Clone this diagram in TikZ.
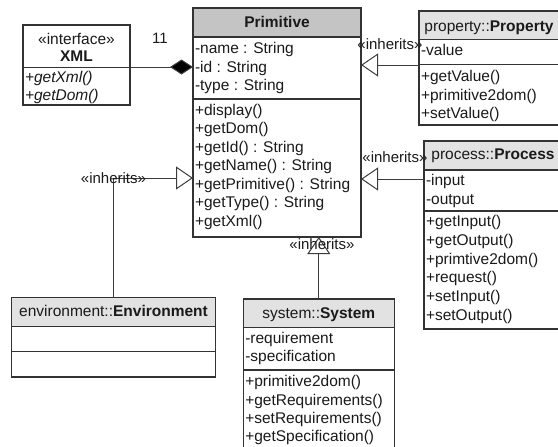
\documentclass[tikz,border=0pt]{standalone}
\usepackage{fontspec}
\setmainfont{Liberation Sans}
\usetikzlibrary{arrows.meta}

\definecolor{boxline}{HTML}{333333}
\definecolor{hdrdark}{HTML}{C4C4C4}
\definecolor{hdrlight}{HTML}{E2E2E2}
\definecolor{txtcol}{HTML}{1A1A1A}
\definecolor{conncol}{HTML}{3C3C3C}
\newcommand\umlfont{\fontsize{15.5}{18.5}\selectfont}
\newcommand\lblfont{\fontsize{15}{18}\selectfont}

\begin{document}
\begin{tikzpicture}[x=1pt,y=-1pt,
  every node/.style={inner sep=0pt, outer sep=0pt},
  classbox/.style={rectangle, draw=boxline, line width=1.3pt, fill=white, anchor=north west},
  frame/.style={draw=boxline, line width=1.3pt},
  member/.style={anchor=base west, font=\umlfont, text=txtcol},
  title/.style={anchor=base, font=\umlfont, text=txtcol},
  lbl/.style={font=\lblfont, text=txtcol},
  conn/.style={draw=conncol, line width=1pt},
  inherit/.style={conn, -{Triangle[length=17pt, width=23pt, fill=white]}},
  compose/.style={conn, -{Diamond[length=23pt, width=15pt, fill=black]}}
]
\useasboundingbox (0,0) rectangle (558,447);
\clip (0,0) rectangle (558,447);

% ---------- XML interface ----------
\node[classbox, minimum width=107pt, minimum height=80pt] (xml) at (23,25) {};
\draw[frame] (23,67.5) -- (130,67.5);
\node[title] (xml-st) at (76.5,44) {«interface»};
\node[title] (xml-nm) at (76.5,61.5) {\bfseries XML};
\node[member] (xml-m1) at (25,82.5) {\itshape +getXml()};
\node[member] (xml-m2) at (25,100.5) {\itshape +getDom()};

% ---------- Primitive ----------
\node[classbox, minimum width=168pt, minimum height=229pt] (prim) at (193,8) {};
\filldraw[frame, fill=hdrdark] (193,8) rectangle (361,37);
\draw[frame] (193,99) -- (361,99);
\node[title] (prim-nm) at (277,27.5) {\bfseries Primitive};
\node[member] (prim-a1) at (195,53.5) {-name : String};
\node[member] (prim-a2) at (195,72.2) {-id : String};
\node[member] (prim-a3) at (195,90.8) {-type : String};
\node[member] (prim-m1) at (195,115) {+display()};
\node[member] (prim-m2) at (195,133.5) {+getDom()};
\node[member] (prim-m3) at (195,152) {+getId() : String};
\node[member] (prim-m4) at (195,170.5) {+getName() : String};
\node[member] (prim-m5) at (195,189) {+getPrimitive() : String};
\node[member] (prim-m6) at (195,207.5) {+getType() : String};
\node[member] (prim-m7) at (195,226) {+getXml()};

% ---------- property::Property ----------
\node[classbox, minimum width=140pt, minimum height=114pt] (prop) at (419,11) {};
\filldraw[frame, fill=hdrlight] (419,11) rectangle (559,39.3);
\draw[frame] (419,64.3) -- (559,64.3);
\node[title] (prop-nm) at (489,31.7) {property::\textbf{Property}};
\node[member] (prop-a1) at (421,55) {-value};
\node[member] (prop-m1) at (421,81.7) {+getValue()};
\node[member] (prop-m2) at (421,100) {+primitive2dom()};
\node[member] (prop-m3) at (421,118.3) {+setValue()};

% ---------- process::Process ----------
\node[classbox, minimum width=138pt, minimum height=188pt] (proc) at (424,141) {};
\filldraw[frame, fill=hdrlight] (424,141) rectangle (562,170);
\draw[frame] (424,211) -- (562,211);
\node[title] (proc-nm) at (493,159.3) {process::\textbf{Process}};
\node[member] (proc-a1) at (426,185) {-input};
\node[member] (proc-a2) at (426,204) {-output};
\node[member] (proc-m1) at (426,226.7) {+getInput()};
\node[member] (proc-m2) at (426,245) {+getOutput()};
\node[member] (proc-m3) at (426,264.3) {+primtive2dom()};
\node[member] (proc-m4) at (426,282.7) {+request()};
\node[member] (proc-m5) at (426,301.7) {+setInput()};
\node[member] (proc-m6) at (426,320.7) {+setOutput()};

% ---------- environment::Environment ----------
\node[classbox, minimum width=203.6pt, minimum height=79.7pt] (env) at (11.7,297.3) {};
\filldraw[frame, fill=hdrlight] (11.7,297.3) rectangle (215.3,326.7);
\draw[frame] (11.7,351.7) -- (215.3,351.7);
\node[title] (env-nm) at (113.5,316.7) {environment::\textbf{Environment}};

% ---------- system::System ----------
\node[classbox, minimum width=151pt, minimum height=170pt] (sys) at (243.3,299) {};
\filldraw[frame, fill=hdrlight] (243.3,299) rectangle (394.3,327.7);
\draw[frame] (243.3,370) -- (394.3,370);
\node[title] (sys-nm) at (318.8,318.3) {system::\textbf{System}};
\node[member] (sys-a1) at (245.3,343.3) {-requirement};
\node[member] (sys-a2) at (245.3,361.7) {-specification};
\node[member] (sys-m1) at (245.3,386) {+primitive2dom()};
\node[member] (sys-m2) at (245.3,405) {+getRequirements()};
\node[member] (sys-m3) at (245.3,423.3) {+setRequirements()};
\node[member] (sys-m4) at (245.3,441.7) {+getSpecification()};

% ---------- relations ----------
\coordinate (ylvlxml) at (0,67);
\coordinate (ylvlprop) at (0,65);
\coordinate (ylvlproc) at (0,179);
\coordinate (ylvlenv) at (0,178);

\draw[compose] (xml.east |- ylvlxml) -- (prim.west |- ylvlxml);
\node[lbl] (mult) at (160,38.5) {11};

\draw[inherit] (prop.west |- ylvlprop) -- (prim.east |- ylvlprop);
\node[lbl] (lbl-prop) at (390,44) {«inherits»};

\draw[inherit] (proc.west |- ylvlproc) -- (prim.east |- ylvlproc);
\node[lbl] (lbl-proc) at (395,157.5) {«inherits»};

\draw[inherit] (env.north) -- (env.north |- ylvlenv) -- (prim.west |- ylvlenv);
\node[lbl] (lbl-env) at (113.5,178) {«inherits»};

\draw[inherit] (sys.north) -- (prim.south -| sys.north);
\node[lbl] (lbl-sys) at (322,244.5) {«inherits»};
\end{tikzpicture}
\end{document}
